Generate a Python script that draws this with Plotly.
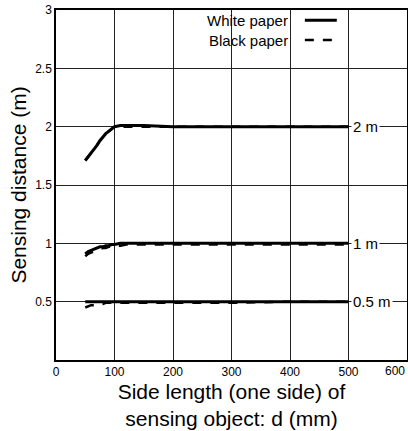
import plotly.graph_objects as go

# Side length d (mm)
side_mm = [50, 55, 60, 65, 70, 75, 80, 85, 90, 95, 100, 110, 120, 150, 200, 300, 400, 500]

# White paper, sensing distance (m)
white_2m = [1.71, 1.74, 1.77, 1.81, 1.84, 1.88, 1.91, 1.94, 1.96, 1.98, 2.0, 2.01, 2.01, 2.01, 2.0, 2.0, 2.0, 2.0]
white_1m = [0.91, 0.93, 0.94, 0.95, 0.96, 0.97, 0.97, 0.98, 0.98, 0.99, 0.99, 1.0, 1.0, 1.0, 1.0, 1.0, 1.0, 1.0]
white_05m = [0.5, 0.5, 0.5, 0.5, 0.5, 0.5, 0.5, 0.5, 0.5, 0.5, 0.5, 0.5, 0.5, 0.5, 0.5, 0.5, 0.5, 0.5]

# Black paper, sensing distance (m)
black_2m = [1.71, 1.74, 1.77, 1.81, 1.84, 1.88, 1.91, 1.94, 1.96, 1.98, 2.0, 2.0, 2.0, 2.0, 2.0, 2.0, 2.0, 2.0]
black_1m = [0.89, 0.91, 0.92, 0.93, 0.94, 0.95, 0.96, 0.96, 0.97, 0.97, 0.98, 0.98, 0.99, 0.99, 0.99, 0.99, 0.99, 0.99]
black_05m = [0.45, 0.46, 0.47, 0.47, 0.48, 0.48, 0.48, 0.49, 0.49, 0.49, 0.49, 0.49, 0.49, 0.49, 0.49, 0.49, 0.5, 0.5]

x_ticks = [0, 100, 200, 300, 400, 500, 600]
x_tick_text = ["0", "100", "200", "300", "400", "500", "600"]
y_ticks = [0.5, 1, 1.5, 2, 2.5, 3]
y_tick_text = ["0.5", "1", "1.5", "2", "2.5", "3"]
set_labels = ["2 m", "1 m", "0.5 m"]
set_values = [2, 1, 0.5]

FONT = "Liberation Sans, Arial"

fig = go.Figure()
for ys in (black_2m, black_1m, black_05m):
    fig.add_trace(go.Scatter(x=side_mm, y=ys, mode="lines",
                             line=dict(color="black", width=2.5, dash="dash"),
                             showlegend=False))
for ys in (white_2m, white_1m, white_05m):
    fig.add_trace(go.Scatter(x=side_mm, y=ys, mode="lines",
                             line=dict(color="black", width=3),
                             showlegend=False))

for lab, v in zip(set_labels, set_values):
    fig.add_annotation(x=505, y=v, xref="x", yref="y", text=lab, showarrow=False,
                       xanchor="left", yanchor="middle", bgcolor="white",
                       font=dict(family=FONT, size=15, color="black"))

# the last x tick label sits at the window edge, so it is right-anchored to stay visible
fig.add_annotation(x=x_ticks[-1], y=0, xref="x", yref="paper", text=x_tick_text[-1],
                   showarrow=False, xanchor="right", yanchor="top", yshift=-2,
                   font=dict(family=FONT, size=12, color="black"))

# Legend drawn manually (text left, sample right)
fig.add_annotation(x=0.667, y=0.971, xref="paper", yref="paper", text="White paper",
                   showarrow=False, xanchor="right", yanchor="middle",
                   font=dict(family=FONT, size=15, color="black"))
fig.add_annotation(x=0.667, y=0.914, xref="paper", yref="paper", text="Black paper",
                   showarrow=False, xanchor="right", yanchor="middle",
                   font=dict(family=FONT, size=15, color="black"))
fig.add_shape(type="line", xref="paper", yref="paper", x0=0.709, x1=0.80, y0=0.971, y1=0.971,
              line=dict(color="black", width=3))
fig.add_shape(type="line", xref="paper", yref="paper", x0=0.709, x1=0.80, y0=0.914, y1=0.914,
              line=dict(color="black", width=2.5, dash="dash"))

fig.update_layout(
    width=408, height=431,
    margin=dict(l=56, r=1, t=10, b=71, autoexpand=False),
    paper_bgcolor="white", plot_bgcolor="white",
    font=dict(family=FONT, color="black"),
    xaxis=dict(range=[0, 600], tickvals=x_ticks, ticktext=x_tick_text[:-1] + [""],
               ticks="", showgrid=True, automargin=False,
               gridcolor="#222", gridwidth=1, showline=True, linecolor="black", linewidth=1.5,
               mirror=True, zeroline=False, tickfont=dict(size=12),
               title=dict(text="Side length (one side) of<br>sensing object: d (mm)",
                          font=dict(size=21), standoff=6)),
    yaxis=dict(range=[0, 3], tickvals=y_ticks, ticktext=y_tick_text, ticks="", automargin=False,
               ticklabeloverflow="allow",
               showgrid=True, gridcolor="#222", gridwidth=1, showline=True,
               linecolor="black", linewidth=1.5, mirror=True, zeroline=False,
               tickfont=dict(size=12),
               title=dict(text="Sensing distance (m)", font=dict(size=21), standoff=3)),
)

# remove the page's default body margin so the figure fills the window exactly
fig.write_html("out.html", config={"displayModeBar": False},
               post_script="document.body.style.margin='0';document.body.style.overflow='hidden';")
